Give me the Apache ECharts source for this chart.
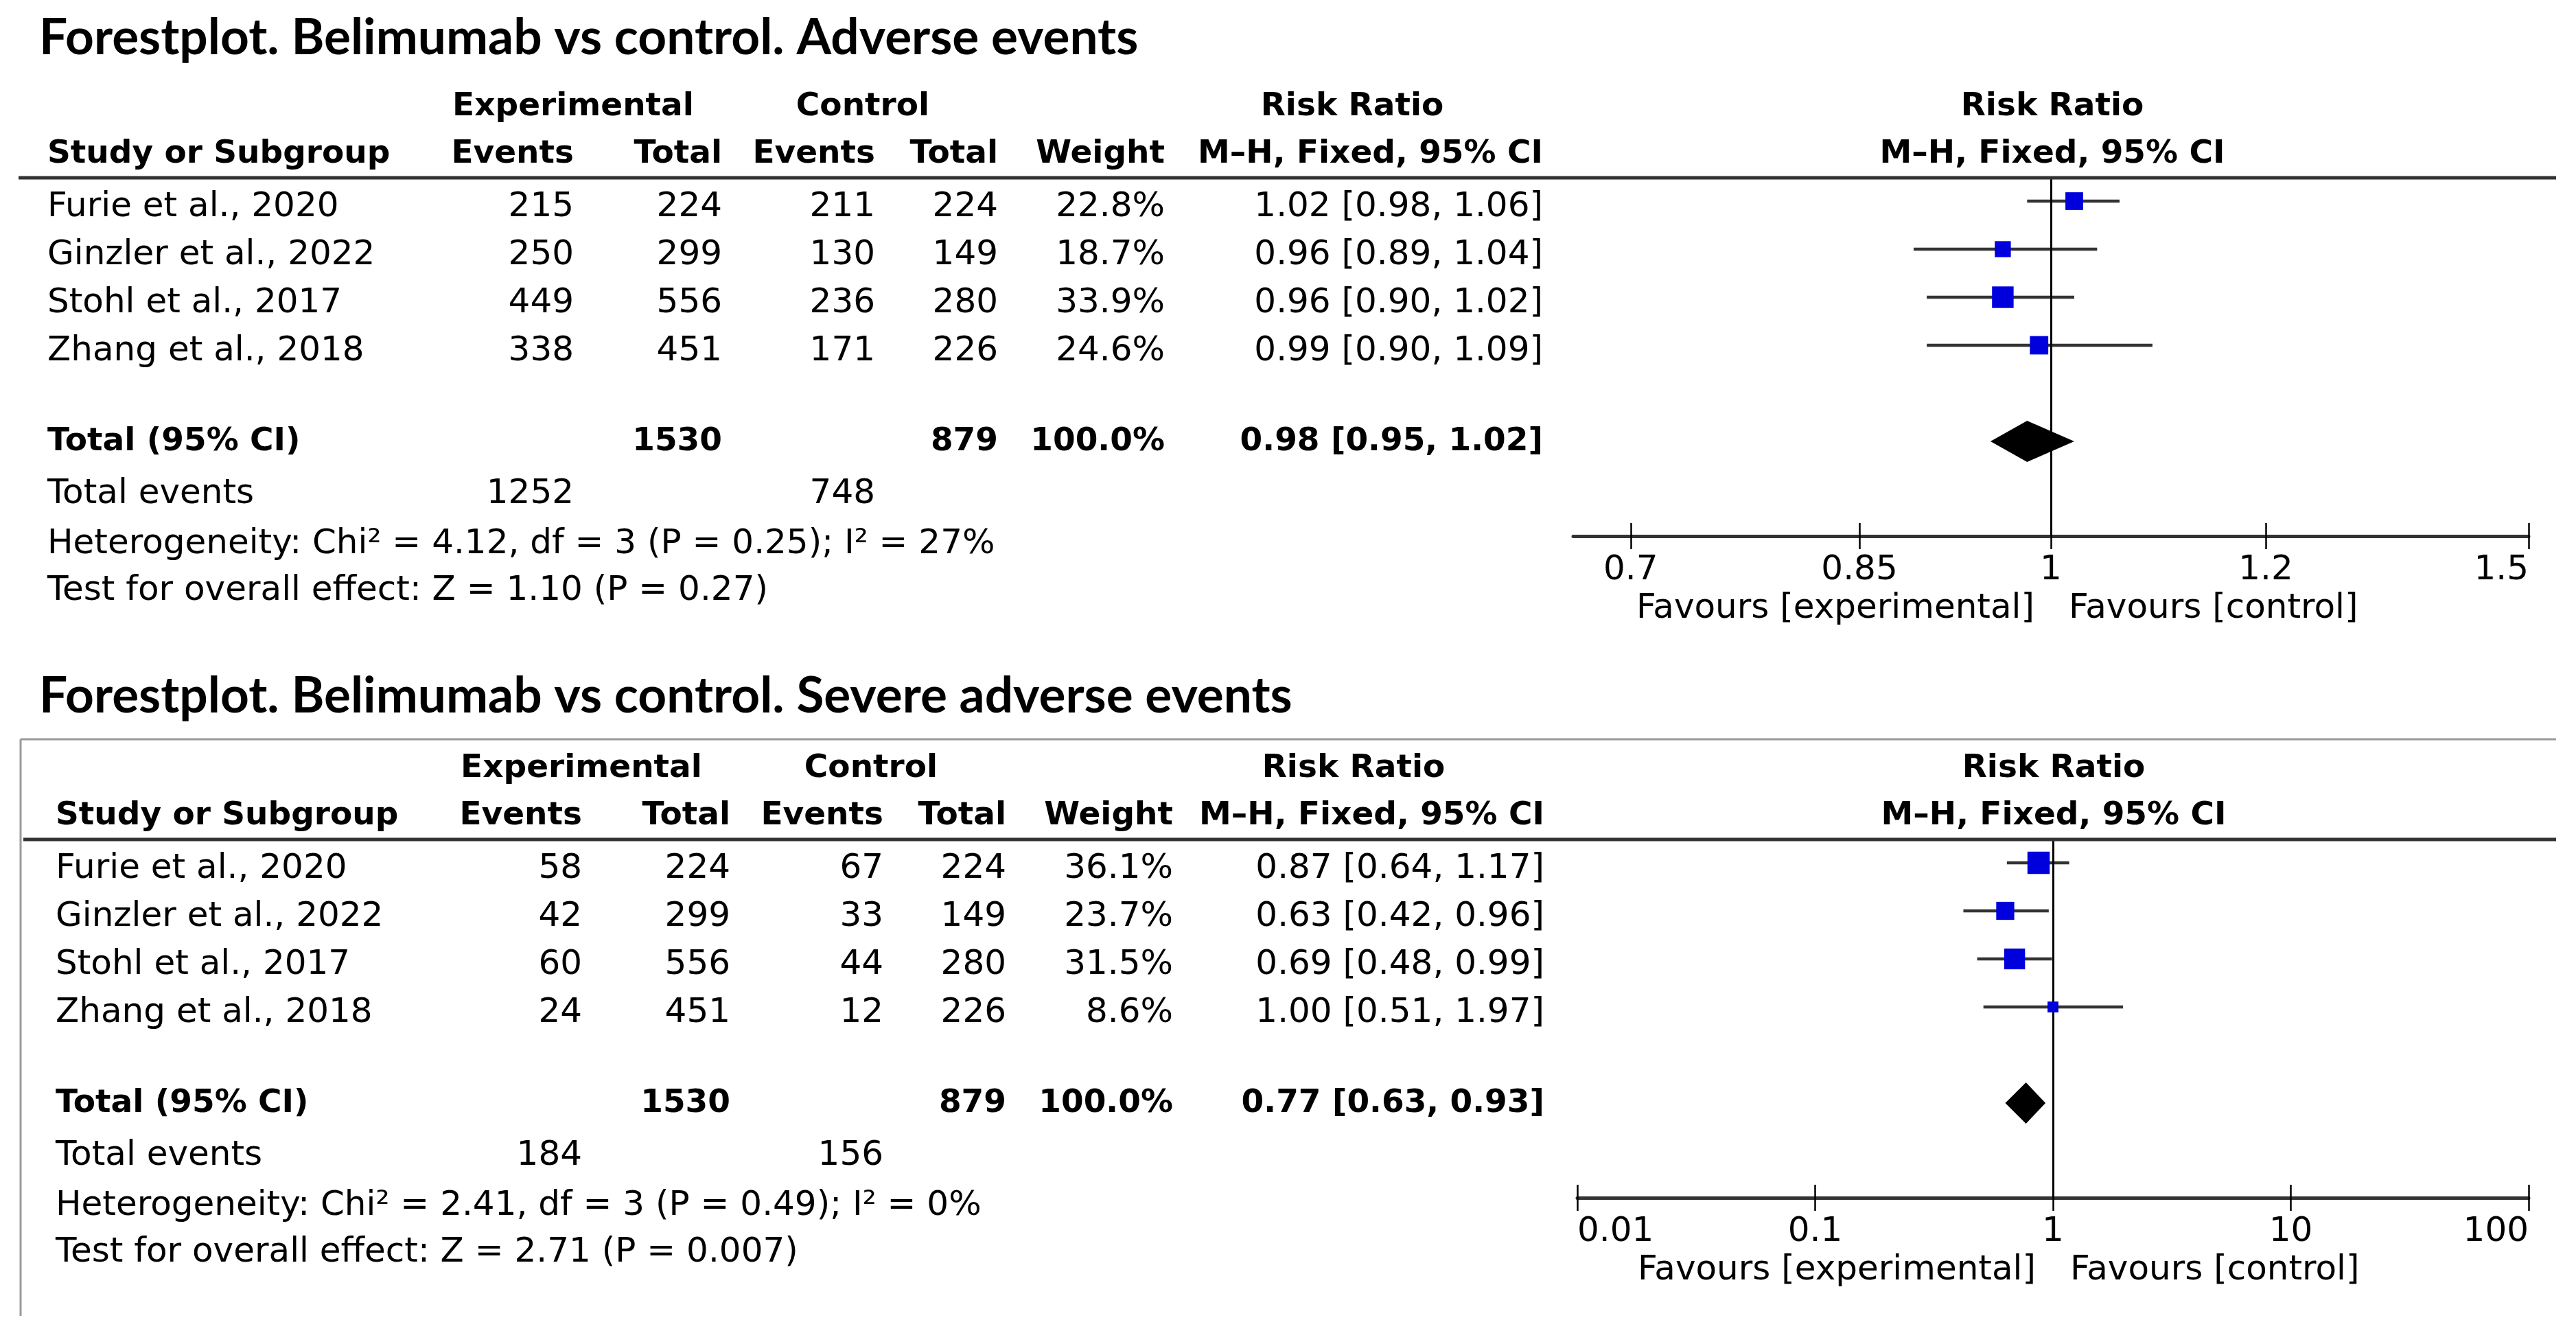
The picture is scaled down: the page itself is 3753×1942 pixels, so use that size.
<!DOCTYPE html>
<html>
<head>
<meta charset="utf-8">
<script src="https://cdn.jsdelivr.net/npm/echarts@6/dist/echarts.min.js"></script>
<style>html,body{margin:0;padding:0;background:#fff}#c{width:3753px;height:1942px}</style>
</head>
<body>
<div id="c"></div>
<script>
// ---------------- data ----------------
const studies = ['Furie et al., 2020', 'Ginzler et al., 2022', 'Stohl et al., 2017', 'Zhang et al., 2018'];

// Panel A: adverse events
const aeTitle = 'Forestplot. Belimumab vs control. Adverse events';
const aeExpEvents = [215, 250, 449, 338];
const aeExpTotal = [224, 299, 556, 451];
const aeCtrlEvents = [211, 130, 236, 171];
const aeCtrlTotal = [224, 149, 280, 226];
const aeWeight = [22.8, 18.7, 33.9, 24.6];
const aeRR = [1.02, 0.96, 0.96, 0.99];
const aeLow = [0.98, 0.89, 0.90, 0.90];
const aeHigh = [1.06, 1.04, 1.02, 1.09];
const aeTotals = [1530, 879];          // experimental total, control total
const aeTotalEvents = [1252, 748];
const aePooled = [0.98, 0.95, 1.02];   // RR, low, high
const aeHetero = 'Heterogeneity: Chi\u00B2 = 4.12, df = 3 (P = 0.25); I\u00B2 = 27%';
const aeOverall = 'Test for overall effect: Z = 1.10 (P = 0.27)';
const aeTicks = [0.7, 0.85, 1, 1.2, 1.5];
const aeRange = [1 / 1.5, 1.5];

// Panel B: severe adverse events
const saeTitle = 'Forestplot. Belimumab vs control. Severe adverse events';
const saeExpEvents = [58, 42, 60, 24];
const saeExpTotal = [224, 299, 556, 451];
const saeCtrlEvents = [67, 33, 44, 12];
const saeCtrlTotal = [224, 149, 280, 226];
const saeWeight = [36.1, 23.7, 31.5, 8.6];
const saeRR = [0.87, 0.63, 0.69, 1.00];
const saeLow = [0.64, 0.42, 0.48, 0.51];
const saeHigh = [1.17, 0.96, 0.99, 1.97];
const saeTotals = [1530, 879];
const saeTotalEvents = [184, 156];
const saePooled = [0.77, 0.63, 0.93];
const saeHetero = 'Heterogeneity: Chi\u00B2 = 2.41, df = 3 (P = 0.49); I\u00B2 = 0%';
const saeOverall = 'Test for overall effect: Z = 2.71 (P = 0.007)';
const saeTicks = [0.01, 0.1, 1, 10, 100];
const saeRange = [0.01, 100];

const favLeft = 'Favours [experimental]';
const favRight = 'Favours [control]';

// ---------------- styles / layout ----------------
const FONT = "'DejaVu Sans', Verdana, sans-serif";
const TFONT = "Lato, 'Open Sans', sans-serif";
const FS = 50, FSB = 47, FST = 73;
const ROW = 70;

const panels = [
  { title: aeTitle, ee: aeExpEvents, et: aeExpTotal, ce: aeCtrlEvents, ct: aeCtrlTotal, w: aeWeight,
    rr: aeRR, lo: aeLow, hi: aeHigh, tot: aeTotals, tev: aeTotalEvents, pool: aePooled,
    het: aeHetero, ov: aeOverall, ticks: aeTicks, range: aeRange,
    dy: 0, titleBase: 78, dx: 0, dxc: 0, gridLeft: 2292, gridTop: 258, box: false, alignMin: 'center', lineX0: 27 },
  { title: saeTitle, ee: saeExpEvents, et: saeExpTotal, ce: saeCtrlEvents, ct: saeCtrlTotal, w: saeWeight,
    rr: saeRR, lo: saeLow, hi: saeHigh, tot: saeTotals, tev: saeTotalEvents, pool: saePooled,
    het: saeHetero, ov: saeOverall, ticks: saeTicks, range: saeRange,
    dy: 964, titleBase: 1037, dx: 12, dxc: 2, gridLeft: 2298, gridTop: 1222, box: true, alignMin: 'left', lineX0: 34 }
];

const GRID_H = 523;
const yMax = -0.5 + GRID_H / ROW;

function txt(x, base, s, o) {
  o = o || {};
  const fs = o.fs || (o.bold ? FSB : FS);
  const k = o.k || 0.35;
  return {
    type: 'text', x: x, y: base - Math.round(k * fs), silent: true, z: 100,
    style: { text: s, fontFamily: o.ff || FONT, fontSize: fs, fontWeight: o.bold ? 'bold' : 'normal',
      fill: '#000', align: o.align || 'left', verticalAlign: 'middle' }
  };
}
function hline(x1, x2, y, color, w) {
  return { type: 'line', silent: true, z: 90, shape: { x1: x1, y1: y, x2: x2, y2: y }, style: { stroke: color, lineWidth: w } };
}
function vline(x, y1, y2, color, w) {
  return { type: 'line', silent: true, z: 90, shape: { x1: x, y1: y1, x2: x, y2: y2 }, style: { stroke: color, lineWidth: w } };
}
const f2 = v => v.toFixed(2);
const ciText = (r, l, h) => f2(r) + ' [' + f2(l) + ', ' + f2(h) + ']';

const graphics = [];
const grids = [], xAxes = [], yAxes = [], series = [];

panels.forEach((p, gi) => {
  const dy = p.dy, dx = p.dx, dxc = p.dxc;
  const X = { name: 69 + dx, ee: 836 + dx, et: 1052 + dx, ce: 1275 + dx, ct: 1454 + dx, w: 1697 + dx, ci: 2248 + dxc,
              expH: 835 + dx, ctlH: 1257 + dx, rrH: 1970 + dxc, plotH: 2990 + dxc };
  // title
  graphics.push(txt(57, p.titleBase, p.title, { ff: TFONT, fs: FST, bold: true, k: 0.31 }));
  if (p.box) {
    graphics.push(hline(30, 3724, 1077, '#9a9a9a', 3));
    graphics.push(vline(30, 1077, 1917, '#9a9a9a', 3));
  }
  // header row 1
  const h1 = 172 + dy, h2 = 241 + dy;
  graphics.push(txt(X.expH, h1, 'Experimental', { bold: true, align: 'center' }));
  graphics.push(txt(X.ctlH, h1, 'Control', { bold: true, align: 'center' }));
  graphics.push(txt(X.rrH, h1, 'Risk Ratio', { bold: true, align: 'center' }));
  graphics.push(txt(X.plotH, h1, 'Risk Ratio', { bold: true, align: 'center' }));
  // header row 2
  graphics.push(txt(X.name, h2, 'Study or Subgroup', { bold: true }));
  graphics.push(txt(X.ee, h2, 'Events', { bold: true, align: 'right' }));
  graphics.push(txt(X.et, h2, 'Total', { bold: true, align: 'right' }));
  graphics.push(txt(X.ce, h2, 'Events', { bold: true, align: 'right' }));
  graphics.push(txt(X.ct, h2, 'Total', { bold: true, align: 'right' }));
  graphics.push(txt(X.w, h2, 'Weight', { bold: true, align: 'right' }));
  graphics.push(txt(X.ci, h2, 'M\u2013H, Fixed, 95% CI', { bold: true, align: 'right' }));
  graphics.push(txt(X.plotH, h2, 'M\u2013H, Fixed, 95% CI', { bold: true, align: 'center' }));
  graphics.push(hline(p.lineX0, 3724, 259 + dy, '#333', 5));
  // study rows
  studies.forEach((s, j) => {
    const b = 320 + dy + j * ROW;
    graphics.push(txt(X.name, b, s));
    graphics.push(txt(X.ee, b, String(p.ee[j]), { align: 'right' }));
    graphics.push(txt(X.et, b, String(p.et[j]), { align: 'right' }));
    graphics.push(txt(X.ce, b, String(p.ce[j]), { align: 'right' }));
    graphics.push(txt(X.ct, b, String(p.ct[j]), { align: 'right' }));
    graphics.push(txt(X.w, b, p.w[j].toFixed(1) + '%', { align: 'right' }));
    graphics.push(txt(X.ci, b, ciText(p.rr[j], p.lo[j], p.hi[j]), { align: 'right' }));
  });
  // total row
  const tb = 660 + dy;
  const wsum = p.w.reduce((a, b) => a + b, 0);
  graphics.push(txt(X.name, tb, 'Total (95% CI)', { bold: true }));
  graphics.push(txt(X.et, tb, String(p.tot[0]), { bold: true, align: 'right' }));
  graphics.push(txt(X.ct, tb, String(p.tot[1]), { bold: true, align: 'right' }));
  graphics.push(txt(X.w, tb, (Math.round(wsum / 10) * 10).toFixed(1) + '%', { bold: true, align: 'right' }));
  graphics.push(txt(X.ci, tb, ciText(p.pool[0], p.pool[1], p.pool[2]), { bold: true, align: 'right' }));
  // footer
  graphics.push(txt(X.name, 738 + dy, 'Total events'));
  graphics.push(txt(X.ee, 738 + dy, String(p.tev[0]), { align: 'right' }));
  graphics.push(txt(X.ce, 738 + dy, String(p.tev[1]), { align: 'right' }));
  graphics.push(txt(X.name, 811 + dy, p.het));
  graphics.push(txt(X.name, 879 + dy, p.ov));
  // favours
  graphics.push(txt(2964 + dxc, 905 + dy, favLeft, { align: 'right' }));
  graphics.push(txt(3014 + dxc, 905 + dy, favRight, { align: 'left' }));

  // ---- chart part ----
  grids.push({ left: p.gridLeft, right: 69, top: p.gridTop, height: GRID_H, containLabel: false });
  const tv = p.ticks.map(Math.log10);
  const fmt = v => {
    let best = p.ticks[0];
    p.ticks.forEach(t => { if (Math.abs(Math.log10(t) - v) < Math.abs(Math.log10(best) - v)) best = t; });
    return String(best);
  };
  const base = { type: 'value', gridIndex: gi, position: 'bottom', min: Math.log10(p.range[0]), max: Math.log10(p.range[1]),
                 splitLine: { show: false }, splitArea: { show: false } };
  xAxes.push(Object.assign({}, base, {
    axisLine: { show: true, onZero: false, lineStyle: { color: '#333', width: 5 } },
    axisTick: { show: true, inside: false, length: 19, customValues: tv, lineStyle: { color: '#000', width: 2.5 } },
    axisLabel: { show: true, customValues: tv, formatter: fmt, margin: 25, fontFamily: FONT, fontSize: FS, color: '#000',
                 alignMinLabel: p.alignMin, alignMaxLabel: 'right', showMinLabel: true, showMaxLabel: true, hideOverlap: false }
  }));
  xAxes.push(Object.assign({}, base, {
    axisLine: { show: false, onZero: false },
    axisTick: { show: true, inside: true, length: 19, customValues: tv, lineStyle: { color: '#000', width: 2.5 } },
    axisLabel: { show: false }
  }));
  yAxes.push({ type: 'value', gridIndex: gi, inverse: true, min: -0.5, max: yMax, show: false });

  const xi = gi * 2, yi = gi;
  // confidence intervals
  series.push({
    type: 'custom', xAxisIndex: xi, yAxisIndex: yi, z: 2, silent: true,
    encode: { x: [0, 1], y: 2 },
    data: studies.map((s, j) => [Math.log10(p.lo[j]), Math.log10(p.hi[j]), j]),
    renderItem: (params, api) => {
      const a = api.coord([api.value(0), api.value(2)]);
      const b = api.coord([api.value(1), api.value(2)]);
      return { type: 'line', shape: { x1: a[0], y1: a[1], x2: b[0], y2: b[1] }, style: { stroke: '#333', lineWidth: 4.5 } };
    }
  });
  // point estimates (square area ~ weight)
  series.push({
    type: 'scatter', xAxisIndex: xi, yAxisIndex: yi, z: 10, silent: true,
    symbol: 'rect', symbolSize: v => 5.4 * Math.sqrt(v[2]),
    itemStyle: { color: '#0000dc', opacity: 1 },
    data: studies.map((s, j) => [Math.log10(p.rr[j]), j, p.w[j]]),
    markLine: {
      silent: true, symbol: ['none', 'none'], label: { show: false }, animation: false,
      lineStyle: { color: '#000', width: 3, type: 'solid' },
      data: [{ xAxis: Math.log10(1) }]
    }
  });
  // pooled diamond
  series.push({
    type: 'custom', xAxisIndex: xi, yAxisIndex: yi, z: 11, silent: true,
    encode: { x: [0, 1, 2], y: 3 },
    data: [[Math.log10(p.pool[1]), Math.log10(p.pool[0]), Math.log10(p.pool[2]), 5]],
    renderItem: (params, api) => {
      const y = api.value(3);
      const l = api.coord([api.value(0), y]);
      const c = api.coord([api.value(1), y]);
      const h = api.coord([api.value(2), y]);
      const hh = 30;
      return { type: 'polygon', shape: { points: [[l[0], l[1]], [c[0], c[1] - hh], [h[0], h[1]], [c[0], c[1] + hh]] },
               style: { fill: '#000' } };
    }
  });
});

const chart = echarts.init(document.getElementById('c'), null, { renderer: 'canvas' });
chart.setOption({
  animation: false,
  backgroundColor: '#fff',
  grid: grids,
  xAxis: xAxes,
  yAxis: yAxes,
  series: series,
  graphic: { elements: graphics }
});
</script>
</body>
</html>
